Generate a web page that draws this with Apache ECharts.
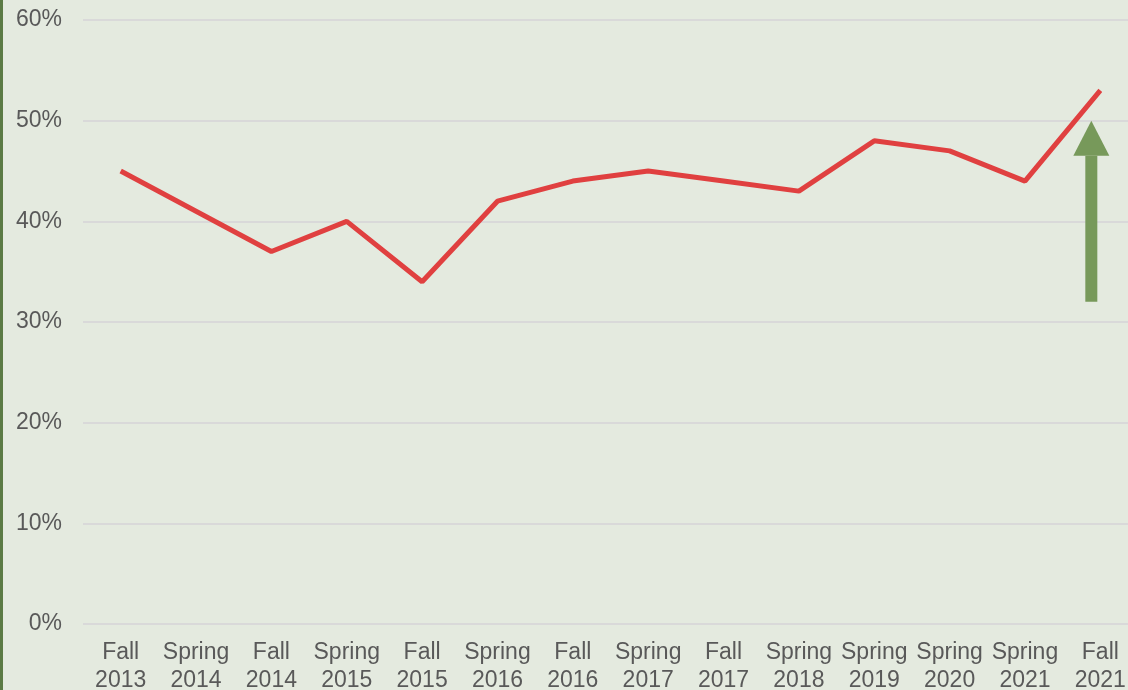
<!DOCTYPE html>
<html>
<head>
<meta charset="utf-8">
<script src="https://cdn.jsdelivr.net/npm/echarts@6/dist/echarts.min.js"></script>
<style>
  html, body { margin: 0; padding: 0; background: #e4eadf; }
  #chart { width: 1128px; height: 690px; border-left: 3px solid #5b7b45; box-sizing: border-box; }
</style>
</head>
<body>
<div id="chart"></div>
<script>
const terms = ['Fall\n2013', 'Spring\n2014', 'Fall\n2014', 'Spring\n2015', 'Fall\n2015', 'Spring\n2016', 'Fall\n2016',
  'Spring\n2017', 'Fall\n2017', 'Spring\n2018', 'Spring\n2019', 'Spring\n2020', 'Spring\n2021', 'Fall\n2021'];
const rates = [45, 41, 37, 40, 34, 42, 44, 45, 44, 43, 48, 47, 44, 53];
// arrow annotation: [category index, from %, to %]
const arrow = [[13, 32, 50]];

const chart = echarts.init(document.getElementById('chart'));
chart.setOption({
  backgroundColor: '#e4eadf',
  animation: false,
  textStyle: { fontFamily: 'Liberation Sans, Arial, sans-serif' },
  grid: { top: 20, bottom: 66, left: 80, right: -10, outerBoundsMode: 'none', containLabel: false },
  xAxis: {
    type: 'category',
    data: terms,
    axisLine: { show: false },
    axisTick: { show: false },
    axisLabel: { color: '#595959', fontSize: 23, lineHeight: 28, margin: 15, interval: 0 }
  },
  yAxis: {
    type: 'value',
    min: 0,
    max: 60,
    interval: 10,
    axisLabel: { color: '#595959', fontSize: 23, margin: 21, formatter: '{value}%' },
    splitLine: { lineStyle: { color: '#d9d9d9', width: 2 } }
  },
  series: [
    {
      type: 'line',
      data: rates,
      symbol: 'none',
      lineStyle: { color: '#e04040', width: 5 },
      z: 3
    },
    {
      type: 'custom',
      data: arrow,
      z: 1,
      renderItem: (params, api) => {
        const bottom = api.coord([api.value(0), api.value(1)]);
        const tip = api.coord([api.value(0), api.value(2)]);
        const x = bottom[0] - 9;
        const headH = 35;
        return {
          type: 'group',
          children: [
            { type: 'rect', shape: { x: x - 6, y: tip[1] + headH, width: 12, height: bottom[1] - tip[1] - headH }, style: { fill: '#77995a' } },
            { type: 'polygon', shape: { points: [[x, tip[1]], [x + 18, tip[1] + headH], [x - 18, tip[1] + headH]] }, style: { fill: '#77995a' } }
          ]
        };
      }
    }
  ]
});
</script>
</body>
</html>
